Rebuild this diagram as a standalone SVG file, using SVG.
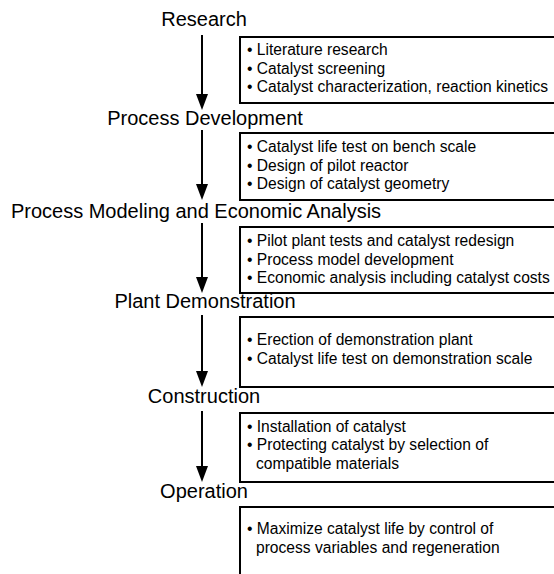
<svg xmlns="http://www.w3.org/2000/svg" width="554" height="574" viewBox="0 0 554 574">
<style>
.h{font-family:"Liberation Sans",Arial,sans-serif;font-size:20px;fill:#000;text-anchor:middle}
.t{font-family:"Liberation Sans",Arial,sans-serif;font-size:15.6px;fill:#000}
.b{fill:#fff;stroke:#000;stroke-width:2}
.c{stroke:#000;stroke-width:2;fill:none}
.a{fill:#000}
</style>
<rect width="554" height="574" fill="#fff"/>
<g id="connectors">
<line class="c" x1="202" y1="35" x2="202" y2="96"/>
<path class="a" d="M196,94 L208,94 L202,110 Z"/>
<line class="c" x1="202" y1="130" x2="202" y2="186"/>
<path class="a" d="M196,184 L208,184 L202,200 Z"/>
<line class="c" x1="202" y1="223" x2="202" y2="280"/>
<path class="a" d="M196,277 L208,277 L202,293 Z"/>
<line class="c" x1="202" y1="315" x2="202" y2="374"/>
<path class="a" d="M196,371 L208,371 L202,387 Z"/>
<line class="c" x1="202" y1="411" x2="202" y2="469"/>
<path class="a" d="M196,466 L208,466 L202,482 Z"/>
</g>
<g id="research">
<text class="h" x="204" y="26">Research</text>
<rect class="b" x="240" y="37" width="330" height="66"/>
<text class="t" x="247" y="55">• Literature research</text>
<text class="t" x="247" y="73.5">• Catalyst screening</text>
<text class="t" x="247" y="92">• Catalyst characterization, reaction kinetics</text>
</g>
<g id="process-development">
<text class="h" x="205" y="125">Process Development</text>
<rect class="b" x="240" y="133" width="330" height="67"/>
<text class="t" x="247" y="152">• Catalyst life test on bench scale</text>
<text class="t" x="247" y="170.5">• Design of pilot reactor</text>
<text class="t" x="247" y="189">• Design of catalyst geometry</text>
</g>
<g id="process-modeling">
<text class="h" x="196" y="218">Process Modeling and Economic Analysis</text>
<rect class="b" x="240" y="227" width="330" height="66"/>
<text class="t" x="247" y="246">• Pilot plant tests and catalyst redesign</text>
<text class="t" x="247" y="264.5">• Process model development</text>
<text class="t" x="247" y="283">• Economic analysis including catalyst costs</text>
</g>
<g id="plant-demonstration">
<text class="h" x="205" y="308">Plant Demonstration</text>
<rect class="b" x="240" y="317" width="330" height="70"/>
<text class="t" x="247" y="345">• Erection of demonstration plant</text>
<text class="t" x="247" y="364">• Catalyst life test on demonstration scale</text>
</g>
<g id="construction">
<text class="h" x="204" y="403">Construction</text>
<rect class="b" x="240" y="413" width="330" height="69"/>
<text class="t" x="247" y="432">• Installation of catalyst</text>
<text class="t" x="247" y="450">• Protecting catalyst by selection of</text>
<text class="t" x="256" y="468.5">compatible materials</text>
</g>
<g id="operation">
<text class="h" x="204" y="498">Operation</text>
<rect class="b" x="240" y="507" width="330" height="80"/>
<text class="t" x="247" y="534">• Maximize catalyst life by control of</text>
<text class="t" x="256" y="552.5">process variables and regeneration</text>
</g>
</svg>
